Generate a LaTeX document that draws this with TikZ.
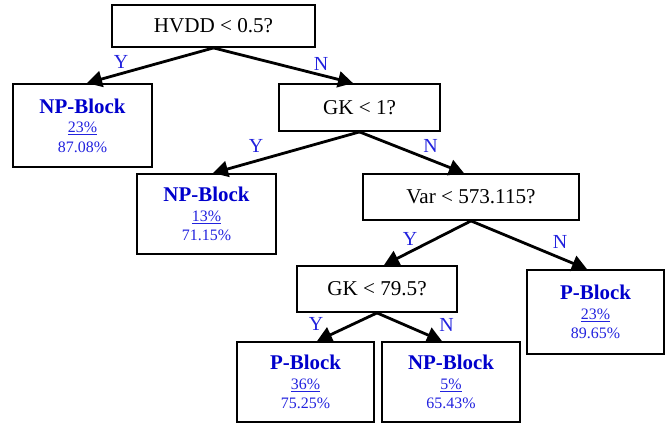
\documentclass[tikz,border=0pt]{standalone}
\usepackage{fontspec}
\setmainfont{Liberation Serif}
\usetikzlibrary{arrows.meta}
\definecolor{leafblue}{RGB}{0,0,204}
\definecolor{statblue}{RGB}{34,34,222}
\begin{document}
\begin{tikzpicture}[x=1bp,y=-1bp,
  test/.style={draw, line width=1.8bp, rectangle, inner sep=0pt,
    font=\fontsize{21.2}{24}\selectfont},
  leaf/.style={draw, line width=1.8bp, rectangle, inner sep=0pt, align=center,
    text=statblue, font=\fontsize{16}{19.5}\selectfont},
  branch/.style={line width=2.8bp, -{Triangle[length=15bp,width=16bp]}},
  ans/.style={text=statblue, font=\fontsize{20}{22}\selectfont, inner sep=0pt}]
\useasboundingbox (0,0) rectangle (665,424);

% decision nodes
\node[test, minimum width=203bp, minimum height=42bp] (hvdd) at (213.5,26) {HVDD < 0.5?};
\node[test, minimum width=161bp, minimum height=47bp] (gka) at (359.5,107.5) {GK < 1?};
\node[test, minimum width=216bp, minimum height=46bp] (var) at (471,197) {Var < 573.115?};
\node[test, minimum width=160bp, minimum height=46bp] (gkb) at (377,289) {GK < 79.5?};

% leaves: class, share of samples, accuracy
\node[leaf, minimum width=139bp, minimum height=83bp] (npa) at (82.5,125.5)
  {\textcolor{leafblue}{\fontsize{21}{19.5}\bfseries NP-Block}\\\underline{23\%}\\87.08\%};
\node[leaf, minimum width=139bp, minimum height=80bp] (npb) at (206.5,214)
  {\textcolor{leafblue}{\fontsize{21}{19.5}\bfseries NP-Block}\\\underline{13\%}\\71.15\%};
\node[leaf, minimum width=137bp, minimum height=84bp] (pr) at (595.5,312)
  {\textcolor{leafblue}{\fontsize{21}{19.5}\bfseries P-Block}\\\underline{23\%}\\89.65\%};
\node[leaf, minimum width=137bp, minimum height=80bp] (pl) at (305.5,382)
  {\textcolor{leafblue}{\fontsize{21}{19.5}\bfseries P-Block}\\\underline{36\%}\\75.25\%};
\node[leaf, minimum width=138bp, minimum height=80bp] (npc) at (451,382)
  {\textcolor{leafblue}{\fontsize{21}{19.5}\bfseries NP-Block}\\\underline{5\%}\\65.43\%};

% branches
\draw[branch] (hvdd.south) -- ([xshift=4.5bp]npa.north);
\draw[branch] (hvdd.south) -- ([xshift=-6.5bp]gka.north);
\draw[branch] (gka.south) -- ([xshift=6.5bp]npb.north);
\draw[branch] (gka.south) -- ([xshift=-7bp]var.north);
\draw[branch] (var.south) -- ([xshift=7bp]gkb.north);
\draw[branch] (var.south) -- ([xshift=-8.5bp]pr.north);
\draw[branch] (gkb.south) -- ([xshift=11.5bp]pl.north);
\draw[branch] (gkb.south) -- ([xshift=-9bp]npc.north);

% branch answers
\node[ans] (ya) at (121,62) {Y};
\node[ans] (na) at (321,64) {N};
\node[ans] (yb) at (256,146) {Y};
\node[ans] (nb) at (430.5,145.5) {N};
\node[ans] (yc) at (410,239) {Y};
\node[ans] (nc) at (560,242) {N};
\node[ans] (yd) at (316,323.5) {Y};
\node[ans] (nd) at (446.5,325) {N};
\end{tikzpicture}
\end{document}
